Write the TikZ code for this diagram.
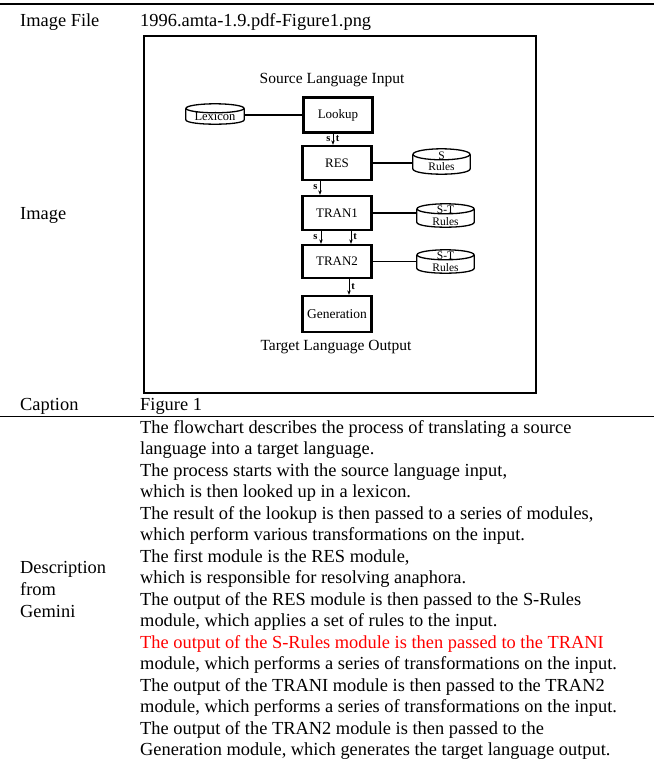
\documentclass[tikz,border=0pt]{standalone}
\usepackage{fontspec}
\setmainfont{Liberation Serif}
\usetikzlibrary{arrows.meta}
% #1 name, #2 ry (pt), #3 rx (pt)
\newcommand\diskoutline[3]{%
  \draw[line width=1.3pt] ([yshift=-#2pt]#1.north) ellipse [x radius=#3pt, y radius=#2pt];
  \draw[line width=1.3pt] ([yshift=-#2pt]#1.north west) -- ([yshift=#2pt]#1.south west)
    .. controls ([yshift=-#2*0.333pt]#1.south west) and ([yshift=-#2*0.333pt]#1.south east) ..
    ([yshift=#2pt]#1.south east) -- ([yshift=-#2pt]#1.north east);
}
\begin{document}
\begin{tikzpicture}[x=1pt,y=-1pt,
  rowtext/.style={anchor=base west, inner sep=0, font=\fontsize{18.4}{21.5}\selectfont},
  modbox/.style={draw, line width=2.3pt, inner sep=0, minimum width=69pt, font=\fontsize{13}{15}\selectfont},
  diskshape/.style={inner sep=0},
  disktext/.style={inner sep=0, align=center, font=\fontsize{11.5}{11.5}\selectfont},
  headtext/.style={inner sep=0, font=\fontsize{15.5}{17}\selectfont},
  flow/.style={line width=0.9pt, -{Stealth[length=4.5pt,width=3.5pt]}},
  link/.style={line width=1.6pt},
  lbl/.style={inner sep=0, font=\fontsize{10.5}{11}\selectfont\bfseries},
]
\useasboundingbox (0,0) rectangle (654,764);
\fill[white] (0,0) rectangle (654,764);

% table rules
\draw[line width=1.4pt] (0,4) -- (654,4);
\draw[line width=0.8pt] (0,416) -- (654,416);

% left column
\node[rowtext] (kImageFile) at (20,26) {Image File};
\node[rowtext] (kImage) at (20,219) {Image};
\node[rowtext] (kCaption) at (20,410) {Caption};
\node[rowtext] (kDesc1) at (20,573) {Description};
\node[rowtext] (kDesc2) at (20,595) {from};
\node[rowtext] (kDesc3) at (20,617) {Gemini};

% right column
\node[rowtext] (vFile) at (140,26) {1996.amta-1.9.pdf-Figure1.png};
\node[rowtext] (vCaption) at (140,410) {Figure 1};

\node[rowtext] (d1) at (140,433.0) {The flowchart describes the process of translating a source};
\node[rowtext] (d2) at (140,454.5) {language into a target language.};
\node[rowtext] (d3) at (140,476.0) {The process starts with the source language input,};
\node[rowtext] (d4) at (140,497.5) {which is then looked up in a lexicon.};
\node[rowtext] (d5) at (140,519.0) {The result of the lookup is then passed to a series of modules,};
\node[rowtext] (d6) at (140,540.5) {which perform various transformations on the input.};
\node[rowtext] (d7) at (140,562.0) {The first module is the RES module,};
\node[rowtext] (d8) at (140,583.5) {which is responsible for resolving anaphora.};
\node[rowtext] (d9) at (140,605.0) {The output of the RES module is then passed to the S-Rules};
\node[rowtext] (d10) at (140,626.5) {module, which applies a set of rules to the input.};
\node[rowtext, text=red] (d11) at (140,648.0) {The output of the S-Rules module is then passed to the TRANI};
\node[rowtext] (d12) at (140,669.5) {module, which performs a series of transformations on the input.};
\node[rowtext] (d13) at (140,691.0) {The output of the TRANI module is then passed to the TRAN2};
\node[rowtext] (d14) at (140,712.5) {module, which performs a series of transformations on the input.};
\node[rowtext] (d15) at (140,734.0) {The output of the TRAN2 module is then passed to the};
\node[rowtext] (d16) at (140,755.5) {Generation module, which generates the target language output.};

% figure frame
\draw[line width=1.4pt] (144,36) rectangle (536,393);

% headings
\node[headtext] (src) at (332,80) {Source Language Input};
\node[headtext] (tgt) at (336,347) {Target Language Output};

% module boxes
\node[modbox, minimum height=35pt] (lookup) at (338,115) {Lookup};
\node[modbox, minimum height=34pt] (res) at (337,163) {RES};
\node[modbox, minimum height=34pt] (tran1) at (337,213) {TRAN1};
\node[modbox, minimum height=33pt] (tran2) at (337,261.5) {TRAN2};
\node[modbox, minimum height=36pt, font=\fontsize{13.5}{15}\selectfont] (gen) at (337,314) {Generation};

% disks
\node[diskshape, minimum width=58pt, minimum height=20pt] (lex) at (215,114) {};
\node[diskshape, minimum width=57pt, minimum height=25pt] (sr) at (441.5,161.5) {};
\node[diskshape, minimum width=57pt, minimum height=23pt] (st1) at (445.5,215.5) {};
\node[diskshape, minimum width=57pt, minimum height=23pt] (st2) at (445.5,261.5) {};
\diskoutline{lex}{4.5}{29}
\diskoutline{sr}{5.5}{28.5}
\diskoutline{st1}{5}{28.5}
\diskoutline{st2}{5}{28.5}
\node[disktext, font=\fontsize{12.5}{12.5}\selectfont] (lexT) at (215,116.5) {Lexicon};
\node[disktext] (srT) at (441.5,161) {S\\Rules};
\node[disktext] (st1T) at (445.5,215.5) {S-T\\Rules};
\node[disktext] (st2T) at (445.5,261.5) {S-T\\Rules};

% links to disks
\draw[link] (lookup.west) -- (lookup.west -| lex.east);
\draw[link] (res.east) -- (res.east -| sr.west);
\draw[link] (tran1.east) -- (tran1.east -| st1.west);
\draw[link] (tran2.east) -- (tran2.east -| st2.west);

% flow arrows
\draw[flow] ([xshift=-5pt]lookup.south) -- ([xshift=-5pt]lookup.south |- res.north);
\node[lbl] (l1s) at (328.5,139) {s};
\node[lbl] (l1t) at (337.5,139) {t};
\draw[flow] ([xshift=-17pt]res.south) -- ([xshift=-17pt]res.south |- tran1.north);
\node[lbl] (l2s) at (315.5,187) {s};
\draw[flow] ([xshift=-16pt]tran1.south) -- ([xshift=-16pt]tran1.south |- tran2.north);
\node[lbl] (l3s) at (315.5,237) {s};
\draw[flow] ([xshift=14pt]tran1.south) -- ([xshift=14pt]tran1.south |- tran2.north);
\node[lbl] (l3t) at (355,237) {t};
\draw[flow] ([xshift=12pt]tran2.south) -- ([xshift=12pt]tran2.south |- gen.north);
\node[lbl] (l4t) at (353,287) {t};
\end{tikzpicture}
\end{document}
